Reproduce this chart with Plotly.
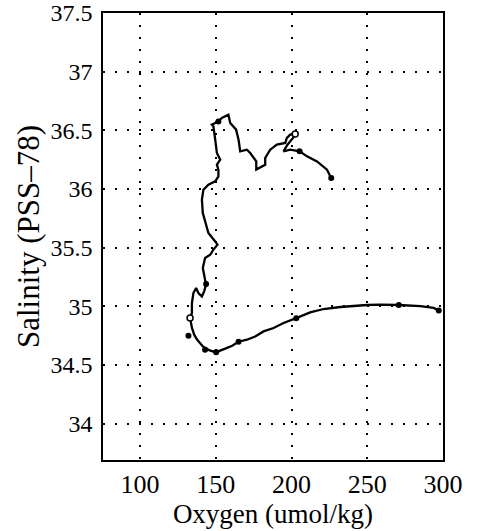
import plotly.graph_objects as go

# CTD trace (oxygen umol/kg, salinity PSS-78)
ctd_oxygen = [226.2, 223.4, 216.8, 210.2, 205.3, 199.1, 194.7, 197.3, 201.1, 202.4,
              199.1, 196.9, 195.8, 190.3, 185.9, 182.6, 182.6, 176.7, 176.7, 172.7,
              170.5, 166.1, 165.0, 163.4, 159.5, 158.3, 154.0, 151.7, 147.4, 148.4,
              149.6, 150.7, 152.9, 150.7, 151.7, 151.7, 149.6, 145.1, 141.8, 140.8,
              141.4, 143.0, 145.1, 149.6, 151.1, 148.4, 146.3, 142.9, 141.4, 142.9,
              143.6, 142.3, 140.8, 138.5, 137.0, 135.2, 134.2, 134.2, 133.0, 134.2,
              135.7, 137.7, 141.6, 146.3, 150.2, 156.2, 160.8, 165.0, 170.5, 176.0,
              181.5, 188.1, 194.7, 203.1, 212.3, 221.1, 232.2, 249.8, 258.6, 270.8,
              285.0, 293.8, 297.2]
ctd_salinity = [36.094, 36.165, 36.235, 36.278, 36.321, 36.335, 36.321, 36.378, 36.437, 36.469,
                36.463, 36.435, 36.392, 36.378, 36.335, 36.264, 36.207, 36.165, 36.235, 36.307,
                36.335, 36.321, 36.420, 36.506, 36.563, 36.633, 36.605, 36.576, 36.548, 36.534,
                36.420, 36.307, 36.250, 36.207, 36.165, 36.107, 36.065, 36.037, 35.994, 35.909,
                35.795, 35.710, 35.625, 35.553, 35.525, 35.483, 35.440, 35.412, 35.327, 35.227,
                35.190, 35.127, 35.084, 35.113, 35.156, 35.113, 35.028, 34.943, 34.900, 34.818,
                34.758, 34.715, 34.656, 34.622, 34.609, 34.639, 34.664, 34.698, 34.715, 34.743,
                34.786, 34.815, 34.858, 34.899, 34.948, 34.977, 34.994, 35.011, 35.014, 35.011,
                35.001, 34.986, 34.965]

# Bottle samples (filled)
bottle_oxygen = [226.2, 205.3, 151.7, 143.6, 131.9, 142.9, 150.2, 165.0, 203.1, 270.8, 297.2]
bottle_salinity = [36.094, 36.321, 36.576, 35.190, 34.749, 34.630, 34.609, 34.698, 34.899, 35.011, 34.965]

# Flagged samples (open)
flag_oxygen = [202.4, 133.0]
flag_salinity = [36.469, 34.900]

x_ticks = [100, 150, 200, 250, 300]
y_ticks = [34, 34.5, 35, 35.5, 36, 36.5, 37, 37.5]
y_tick_text = ["34", "34.5", "35", "35.5", "36", "36.5", "37", "37.5"]

serif = "Times New Roman, Liberation Serif, serif"

fig = go.Figure()
fig.add_trace(go.Scatter(x=ctd_oxygen, y=ctd_salinity, mode="lines",
                         line=dict(color="black", width=2.3), hoverinfo="skip"))
fig.add_trace(go.Scatter(x=bottle_oxygen, y=bottle_salinity, mode="markers",
                         marker=dict(color="black", size=6)))
fig.add_trace(go.Scatter(x=flag_oxygen, y=flag_salinity, mode="markers",
                         marker=dict(color="white", size=6, line=dict(color="black", width=1.5))))

axis_common = dict(showline=True, linecolor="black", linewidth=1.5, mirror=True,
                   showgrid=True, gridcolor="black", gridwidth=1.6, griddash="2px,10px",
                   zeroline=False, ticks="", color="black", automargin=False)

fig.update_xaxes(range=[75.5, 300], tickvals=x_ticks, ticktext=[str(v) for v in x_ticks],
                 tickfont=dict(family=serif, size=26, color="black"),
                 title=dict(text="Oxygen (umol/kg)", font=dict(family=serif, size=27, color="black"),
                            standoff=0),
                 ticklabelstandoff=0, **axis_common)
fig.update_yaxes(range=[33.69, 37.5], tickvals=y_ticks, ticktext=y_tick_text,
                 tickfont=dict(family=serif, size=24, color="black"),
                 title=dict(text="Salinity (PSS\u201378)", font=dict(family=serif, size=31, color="black"),
                            standoff=2),
                 ticklabelstandoff=4, **axis_common)

fig.update_layout(width=477, height=531, showlegend=False,
                  plot_bgcolor="white", paper_bgcolor="white",
                  font=dict(family=serif, color="black"),
                  margin=dict(l=103, r=34, t=13, b=71))

# remove the page's default body margin so the figure sits at the window's corner
fig.write_html("out.html",
               config={"displayModeBar": False},
               post_script="document.body.style.margin='0px';document.body.style.overflow='hidden';")
